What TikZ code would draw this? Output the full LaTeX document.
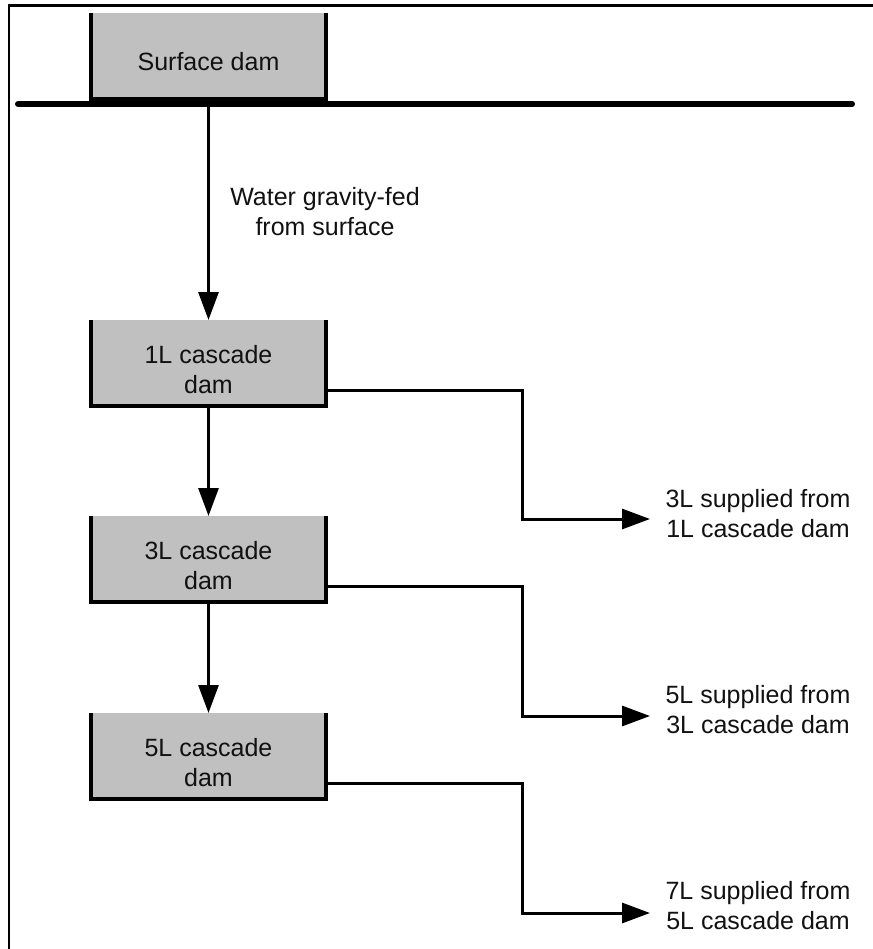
\documentclass[tikz,border=0pt]{standalone}
\usepackage{fontspec}
\setmainfont{Liberation Sans}
\usetikzlibrary{arrows.meta,calc}
\definecolor{damgrey}{RGB}{192,192,192}
\definecolor{inkblack}{RGB}{17,17,17}
\begin{document}
\begin{tikzpicture}[x=1pt,y=-1pt,
  dambox/.style={fill=damgrey, minimum width=235pt, minimum height=86pt, inner sep=0pt, outer sep=0pt},
  damedge/.style={line width=4pt, line join=miter},
  lbl/.style={font=\fontsize{25}{30}\selectfont, align=center, inner sep=0pt, text=inkblack},
  flow/.style={line width=3pt, -{Triangle[length=28pt,width=20pt]}},
  ground/.style={line width=6pt, line cap=round},
  frameline/.style={line width=2.5pt}]
\useasboundingbox (0,0) rectangle (872,949);

% outer frame (only the left and top edges fall inside the page)
\draw[frameline] (9,960) -- (9,5.5) -- (880,5.5);

% dams: grey body open at the top
\node[dambox] (d0) at (208.5,56) {};
\node[dambox] (d1) at (208.5,363) {};
\node[dambox] (d3) at (208.5,559) {};
\node[dambox] (d5) at (208.5,756) {};
\foreach \n in {d0,d1,d3,d5}
  \draw[damedge] (\n.north west) -- (\n.south west) -- (\n.south east) -- (\n.north east);

\node[lbl] (t0) at (208.5,62) {Surface dam};
\node[lbl] (t1) at (208.5,370) {1L cascade\\dam};
\node[lbl] (t3) at (208.5,566) {3L cascade\\dam};
\node[lbl] (t5) at (208.5,763) {5L cascade\\dam};

% ground surface
\coordinate (gL) at (18,104);
\coordinate (gR) at (852,104);
\draw[ground] (gL) -- (gR);

% gravity feed down the shaft
\draw[flow] (d0.south) -- (d1.north);
\node[lbl] (w) at (325,212) {Water gravity-fed\\from surface};
\draw[flow] (d1.south) -- (d3.north);
\draw[flow] (d3.south) -- (d5.north);

% supply branches to the lower levels
\coordinate (o1) at ($(d1.south east)+(0,-16)$);
\coordinate (b1) at (522,519);
\coordinate (e1) at (650,519);
\draw[flow] (o1) -| (b1) -- (e1);
\node[lbl] (s3) at (758,514) {3L supplied from\\1L cascade dam};

\coordinate (o3) at ($(d3.south east)+(0,-16)$);
\coordinate (b3) at (522,716);
\coordinate (e3) at (650,716);
\draw[flow] (o3) -| (b3) -- (e3);
\node[lbl] (s5) at (758,710) {5L supplied from\\3L cascade dam};

\coordinate (o5) at ($(d5.south east)+(0,-16)$);
\coordinate (b5) at (522,913);
\coordinate (e5) at (650,913);
\draw[flow] (o5) -| (b5) -- (e5);
\node[lbl] (s7) at (758,906) {7L supplied from\\5L cascade dam};
\end{tikzpicture}
\end{document}
